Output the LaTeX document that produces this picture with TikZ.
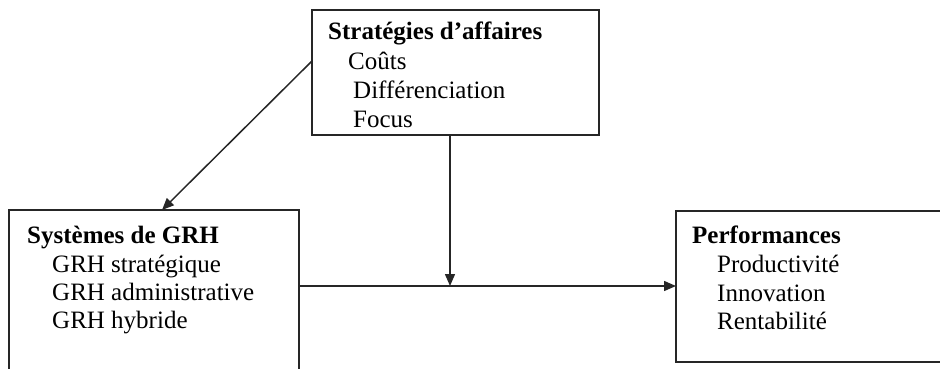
\documentclass[tikz,border=0pt]{standalone}
\usepackage{fontspec}
\setmainfont{Liberation Serif}
\usetikzlibrary{arrows.meta}
\begin{document}
\begin{tikzpicture}[x=1pt,y=-1pt,
  box/.style={draw=black!85,line width=1.5pt,inner sep=0pt,outer sep=0pt},
  txt/.style={anchor=base west,inner sep=0pt,font=\fontsize{25}{28}\selectfont},
  ttl/.style={txt,font=\fontsize{25}{28}\selectfont\bfseries},
  conn/.style={draw=black!85,line width=1.5pt,-{Triangle[length=12pt,width=10pt]}}]
\useasboundingbox (0,0) rectangle (940,369);
\begin{scope}
\clip (0,0) rectangle (940,369);
\node[box,minimum width=287pt,minimum height=125pt] (top) at (455.5,72.5) {};
\node[box,minimum width=290pt,minimum height=200pt] (left) at (154,310) {};
\node[box,minimum width=290pt,minimum height=151pt] (right) at (821,286.5) {};
\end{scope}
\node[ttl] (t0) at (328,40) {Stratégies d’affaires};
\node[txt] (t1) at (348,70) {Coûts};
\node[txt] (t2) at (353,99) {Différenciation};
\node[txt] (t3) at (353,128) {Focus};
\node[ttl] (l0) at (27,243) {Systèmes de GRH};
\node[txt] (l1) at (52,272) {GRH stratégique};
\node[txt] (l2) at (52,300) {GRH administrative};
\node[txt] (l3) at (52,328) {GRH hybride};
\node[ttl] (r0) at (692,243) {Performances};
\node[txt] (r1) at (717,272) {Productivité};
\node[txt] (r2) at (717,301) {Innovation};
\node[txt] (r3) at (717,329) {Rentabilité};
\coordinate (m) at (450,286);
\coordinate (ds) at (312,61);
\coordinate (de) at (162,210);
\draw[conn] (top.west |- ds) -- (left.north -| de);
\draw[conn] (m |- top.south) -- (m);
\draw[conn] (left.east |- m) -- (right.west |- m);
\end{tikzpicture}
\end{document}
